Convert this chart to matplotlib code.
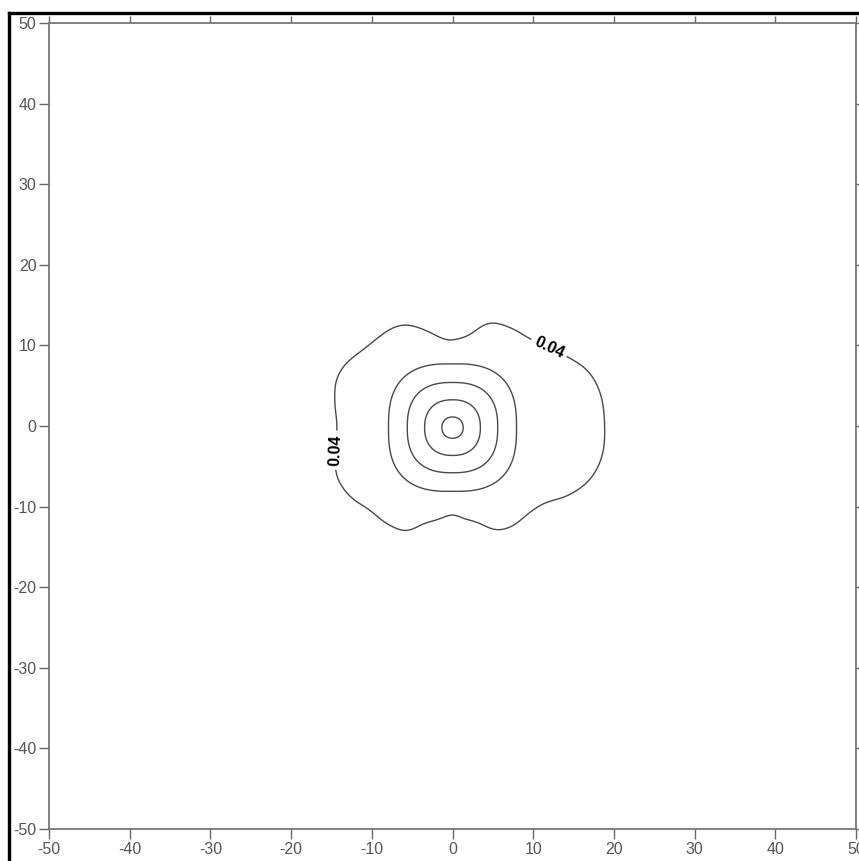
import numpy as np
import matplotlib
matplotlib.use("Agg")
import matplotlib.pyplot as plt
from matplotlib.lines import Line2D

# outer 0.04 isoline, read as (x, y) points going round the blob
OUTLINE_X = [-0.1, -1.55, -3.6, -6.3, -8.8, -10.2, -11.5, -13.3, -14.4, -14.6, -14.2, -14.3,
             -14.6, -12.7, -10.2, -8.6, -6.5, -2.8, -1.5, -0.1, 1.8, 2.6, 5.5, 7.5,
             9.6, 11.2, 14.6, 17.4, 18.7, 18.8, 18.7, 17.4, 14.6, 11.8, 9.0, 6.3,
             4.6, 1.8, 0.9]
OUTLINE_Y = [10.25, 10.9, 12.1, 12.8, 11.3, 9.9, 9.2, 7.8, 6.1, 3.2, 0.5, -3.0,
             -5.9, -9.0, -10.2, -11.9, -12.9, -12.5, -11.25, -10.5, -11.3, -12.1, -13.1, -12.5,
             -10.4, -9.6, -8.5, -6.5, -3.4, 0.7, 2.4, 6.5, 8.6, 9.4, 11.1, 12.7,
             12.9, 11.5, 10.65]

LEVELS = [0.04, 0.08, 0.12, 0.16, 0.20]
PEAK_Y = -0.2          # centre of the inner rings
CORE_SLOPE = 0.0188    # fall-off per unit of the central cone
CORE_RADIUS = 9.3
SHELF_HEIGHT = 0.05
LABEL_POS = [(11.8, 9.4), (-14.3, -3.0)]


def core(x, y, soft=1.0):
    dy = y - PEAK_Y
    # rings go from round near the peak to rounded squares further out
    p = 2.0 + 0.7 * np.clip(np.hypot(x, dy) / 8.0, 0, 1)
    rho = (np.abs(x) ** p + np.abs(dy) ** p) ** (1 / p)
    return CORE_SLOPE * soft * np.logaddexp(0, (CORE_RADIUS - rho) / soft)


def shelf_edge(theta, ang, edge, width=np.deg2rad(6)):
    d = np.angle(np.exp(1j * (theta[..., None] - ang)))
    wts = np.exp(-0.5 * (d / width) ** 2)
    return (wts * edge).sum(-1) / wts.sum(-1)


def build_field(X, Y, soft=0.8):
    ox, oy = np.array(OUTLINE_X), np.array(OUTLINE_Y)
    frac = (LEVELS[0] - core(ox, oy)) / SHELF_HEIGHT
    edge = np.hypot(ox, oy) + soft * np.log(frac / (1 - frac))
    ang = np.arctan2(oy, ox)
    S = shelf_edge(np.arctan2(Y, X), ang, edge)
    shelf = SHELF_HEIGHT / (1 + np.exp((np.hypot(X, Y) - S) / soft))
    return core(X, Y) + shelf


xs = np.linspace(-50, 50, 1001)
X, Y = np.meshgrid(xs, xs)
Z = build_field(X, Y)

plt.rcParams["font.family"] = ["Liberation Sans", "DejaVu Sans"]
plt.rcParams["axes.unicode_minus"] = False
fig = plt.figure(figsize=(8.59, 8.61), dpi=100)
ax = fig.add_axes([49 / 859, 32 / 861, 807 / 859, 806 / 861])

cs = ax.contour(X, Y, Z, levels=LEVELS, colors="#4a4a4a", linewidths=1.0)
labels = ax.clabel(cs, levels=[LEVELS[0]], manual=LABEL_POS, fmt="%.2f", fontsize=11.5,
                   colors="black", inline=True, inline_spacing=4)
for t in labels:
    t.set_fontweight("bold")

ax.set_xlim(-50, 50)
ax.set_ylim(-50, 50)
ticks = np.arange(-50, 51, 10)
ax.set_xticks(ticks)
ax.set_yticks(ticks)
ax.tick_params(direction="out", length=7, width=1.0, color="#666666", labelcolor="#555555",
               labelsize=11.5, pad=2, top=True, right=True)
for t in ax.xaxis.get_major_ticks() + ax.yaxis.get_major_ticks():
    t.tick2line.set_markersize(5)
for s in ax.spines.values():
    s.set_color("#777777")
    s.set_linewidth(1.3)

# heavy frame along the top and left of the page
fig.add_artist(Line2D([9 / 859, 1.0], [1 - 13 / 861] * 2, color="black", lw=2.4,
                      transform=fig.transFigure))
fig.add_artist(Line2D([9 / 859] * 2, [0.0, 1 - 13 / 861], color="black", lw=2.4,
                      transform=fig.transFigure))

fig.savefig("out.png", dpi=100)
